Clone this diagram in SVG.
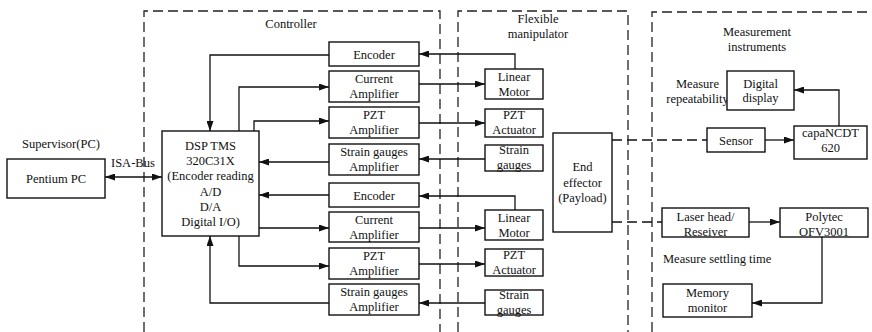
<svg xmlns="http://www.w3.org/2000/svg" width="872" height="332" viewBox="0 0 872 332">
  <style>
    text { font-family: 'Liberation Serif', Tinos, 'Times New Roman', 'DejaVu Serif', serif; font-size: 12.5px; fill: #111; }
    .c { text-anchor: middle; }
    .box { fill: #fff; stroke: #111; stroke-width: 1.4; }
    .grp { fill: none; stroke: #222; stroke-width: 1.3; stroke-dasharray: 10 5; }
    .ln { fill: none; stroke: #111; stroke-width: 1.3; }
    .arr { marker-end: url(#ah); }
    .dash { fill: none; stroke: #111; stroke-width: 1.3; stroke-dasharray: 10 5; }
  </style>
  <defs>
    <marker id="ah" viewBox="0 0 10 7" refX="10" refY="3.5" markerWidth="10" markerHeight="7" orient="auto-start-reverse" markerUnits="userSpaceOnUse">
      <path d="M0,0 L10,3.5 L0,7 z" fill="#111"/>
    </marker>
  </defs>
  <rect width="872" height="332" fill="#fff"/>

  <!-- subsystem frames -->
  <g id="frames">
    <path class="grp" d="M144,332 V11 H440 V332"/>
    <path class="grp" d="M458,332 V11 H628 V332"/>
    <path class="grp" d="M652,332 V12 H872"/>
    <text x="291" y="28" class="c">Controller</text>
    <text x="538" y="23" class="c">Flexible</text>
    <text x="538" y="38" class="c">manipulator</text>
    <text x="757" y="36" class="c">Measurement</text>
    <text x="757" y="51" class="c">instruments</text>
    <text x="61" y="148" class="c">Supervisor(PC)</text>
    <text x="111" y="167">ISA-Bus</text>
    <text x="697.5" y="88" class="c">Measure</text>
    <text x="697.5" y="103" class="c">repeatability</text>
    <text x="663" y="263">Measure settling  time</text>
  </g>

  <!-- connectors -->
  <g id="connectors">
    <!-- PC <-> DSP -->
    <path class="ln" d="M105,177 H162" marker-start="url(#ah)" marker-end="url(#ah)"/>
    <!-- axis 1 -->
    <path class="ln arr" d="M329,55 H210 V131"/>
    <path class="ln arr" d="M239,131 V87 H329"/>
    <path class="ln arr" d="M254,131 V121 H329"/>
    <path class="ln arr" d="M329,162 H259"/>
    <path class="ln arr" d="M515,69 V54 H419"/>
    <path class="ln arr" d="M419,84 H485"/>
    <path class="ln arr" d="M419,123 H485"/>
    <path class="ln arr" d="M485,159 H419"/>
    <!-- axis 2 -->
    <path class="ln arr" d="M329,195 H259"/>
    <path class="ln arr" d="M259,228 H329"/>
    <path class="ln arr" d="M239,236 V266 H329"/>
    <path class="ln arr" d="M329,303 H210 V236"/>
    <path class="ln arr" d="M515,210 V196 H419"/>
    <path class="ln arr" d="M419,228 H485"/>
    <path class="ln arr" d="M419,264 H485"/>
    <path class="ln arr" d="M485,303 H419"/>
    <!-- measurement -->
    <path class="dash" d="M612,140 H707"/>
    <path class="ln arr" d="M765,140 H794"/>
    <path class="ln arr" d="M839,126 V90 H794"/>
    <path class="dash" d="M612,222 H662"/>
    <path class="ln arr" d="M749,222 H780"/>
    <path class="ln arr" d="M822,237 V303 H752"/>
  </g>

  <g id="pentium-pc">
    <rect class="box" x="7" y="159" width="98" height="39"/>
    <text x="56" y="182.5" class="c">Pentium PC</text>
  </g>

  <g id="dsp">
    <rect class="box" x="162" y="131" width="97" height="105"/>
    <text x="210.5" y="150" class="c">DSP TMS</text>
    <text x="210.5" y="165.2" class="c">320C31X</text>
    <text x="210.5" y="180.4" class="c">(Encoder reading</text>
    <text x="210.5" y="195.6" class="c">A/D</text>
    <text x="210.5" y="210.8" class="c">D/A</text>
    <text x="210.5" y="226" class="c">Digital I/O)</text>
  </g>

  <g id="encoder-1">
    <rect class="box" x="329" y="42" width="90" height="24"/>
    <text x="374" y="58.5" class="c">Encoder</text>
  </g>
  <g id="current-amp-1">
    <rect class="box" x="329" y="71" width="90" height="31"/>
    <text x="374" y="83" class="c">Current</text>
    <text x="374" y="98" class="c">Amplifier</text>
  </g>
  <g id="pzt-amp-1">
    <rect class="box" x="329" y="107" width="90" height="31"/>
    <text x="374" y="119" class="c">PZT</text>
    <text x="374" y="134" class="c">Amplifier</text>
  </g>
  <g id="strain-amp-1">
    <rect class="box" x="329" y="144" width="90" height="31"/>
    <text x="374" y="155.5" class="c">Strain gauges</text>
    <text x="374" y="170.5" class="c">Amplifier</text>
  </g>

  <g id="encoder-2">
    <rect class="box" x="329" y="183" width="90" height="24"/>
    <text x="374" y="199.5" class="c">Encoder</text>
  </g>
  <g id="current-amp-2">
    <rect class="box" x="329" y="212" width="90" height="30"/>
    <text x="374" y="224" class="c">Current</text>
    <text x="374" y="239" class="c">Amplifier</text>
  </g>
  <g id="pzt-amp-2">
    <rect class="box" x="329" y="248" width="90" height="31"/>
    <text x="374" y="260" class="c">PZT</text>
    <text x="374" y="275" class="c">Amplifier</text>
  </g>
  <g id="strain-amp-2">
    <rect class="box" x="329" y="284" width="90" height="31"/>
    <text x="374" y="295.5" class="c">Strain gauges</text>
    <text x="374" y="310.5" class="c">Amplifier</text>
  </g>

  <g id="linear-motor-1">
    <rect class="box" x="485" y="69" width="58" height="30"/>
    <text x="514" y="80.7" class="c">Linear</text>
    <text x="514" y="95.5" class="c">Motor</text>
  </g>
  <g id="pzt-actuator-1">
    <rect class="box" x="485" y="109" width="58" height="28"/>
    <text x="514" y="119.3" class="c">PZT</text>
    <text x="514" y="134" class="c">Actuator</text>
  </g>
  <g id="strain-gauges-1">
    <rect class="box" x="485" y="145" width="58" height="26"/>
    <text x="514" y="154" class="c">Strain</text>
    <text x="514" y="168.5" class="c">gauges</text>
  </g>

  <g id="linear-motor-2">
    <rect class="box" x="485" y="210" width="58" height="30"/>
    <text x="514" y="221.7" class="c">Linear</text>
    <text x="514" y="236.5" class="c">Motor</text>
  </g>
  <g id="pzt-actuator-2">
    <rect class="box" x="485" y="249" width="58" height="27"/>
    <text x="514" y="259.3" class="c">PZT</text>
    <text x="514" y="274" class="c">Actuator</text>
  </g>
  <g id="strain-gauges-2">
    <rect class="box" x="485" y="290" width="58" height="25"/>
    <text x="514" y="299" class="c">Strain</text>
    <text x="514" y="313.5" class="c">gauges</text>
  </g>

  <g id="end-effector">
    <rect class="box" x="553" y="133" width="59" height="99"/>
    <text x="582.5" y="171" class="c">End</text>
    <text x="582.5" y="187" class="c">effector</text>
    <text x="582.5" y="202" class="c">(Payload)</text>
  </g>

  <g id="digital-display">
    <rect class="box" x="727" y="71" width="67" height="39"/>
    <text x="760.5" y="87.5" class="c">Digital</text>
    <text x="760.5" y="102" class="c">display</text>
  </g>
  <g id="sensor">
    <rect class="box" x="707" y="128" width="58" height="24"/>
    <text x="736" y="144.5" class="c">Sensor</text>
  </g>
  <g id="capancdt">
    <rect class="box" x="794" y="126" width="73" height="33"/>
    <text x="830.5" y="136.5" class="c">capaNCDT</text>
    <text x="830.5" y="152" class="c">620</text>
  </g>
  <g id="laser-head">
    <rect class="box" x="662" y="208" width="87" height="29"/>
    <text x="705.5" y="221" class="c">Laser head/</text>
    <text x="705.5" y="235.5" class="c">Reseiver</text>
  </g>
  <g id="polytec">
    <rect class="box" x="780" y="208" width="88" height="29"/>
    <text x="824" y="221" class="c">Polytec</text>
    <text x="824" y="235.5" class="c">OFV3001</text>
  </g>
  <g id="memory-monitor">
    <rect class="box" x="663" y="284" width="89" height="33"/>
    <text x="707.5" y="297" class="c">Memory</text>
    <text x="707.5" y="312" class="c">monitor</text>
  </g>
</svg>
